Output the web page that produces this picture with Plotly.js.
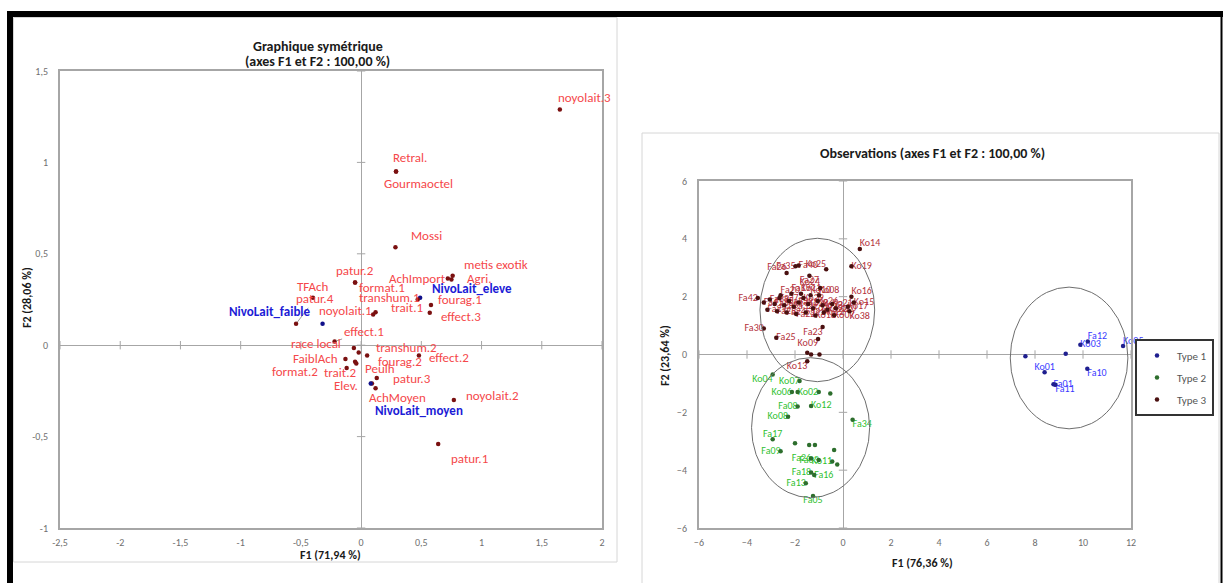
<!DOCTYPE html>
<html><head><meta charset="utf-8">
<script src="https://cdn.plot.ly/plotly-3.0.1.min.js"></script>
<style>html,body{margin:0;padding:0;background:#fff;} #chart{width:1223px;height:583px;}</style>
</head><body><div id="chart"></div>
<script>
// ===== Left chart: Graphique symétrique (axes F1 et F2 : 100,00 %) =====
const symNames = ['noyolait.3','Retral.','Gourmaoctel','Mossi','metis exotik','AchImport','Agri.','NivoLait_eleve','transhum.1','fourag.1','trait.1','noyolait.1','effect.3','patur.2','format.1','TFAch','patur.4','NivoLait_faible','effect.1','race local','transhum.2','FaiblAch','fourag.2','effect.2','format.2','trait.2','Peulh','patur.3','Elev.','AchMoyen','NivoLait_moyen','noyolait.2','patur.1'];
const symX = [1.65,0.29,0.29,0.285,0.76,0.72,0.75,0.49,0.47,0.58,0.12,0.10,0.57,-0.05,-0.05,-0.40,-0.54,-0.32,-0.22,-0.06,-0.02,-0.13,0.05,0.48,-0.05,-0.12,-0.04,0.13,0.09,0.12,0.08,0.77,0.64];
const symY = [1.29,0.95,0.95,0.536,0.38,0.365,0.36,0.26,0.25,0.22,0.18,0.168,0.178,0.343,0.343,0.26,0.117,0.117,0.02,-0.015,-0.04,-0.075,-0.057,-0.057,-0.09,-0.125,-0.10,-0.18,-0.21,-0.235,-0.21,-0.30,-0.54];
const symIsRow = symNames.map(n => n.startsWith('NivoLait'));
// label placement (pixels)
const symDx = [25,14,22,31,43,-30,28,52,-28,29,31,-28,31,0,27,0,19,-53,29,-38,48,-30,33,30,-60,-7,24,35,-26,22,48,39,31];
const symDy = [12,14,-12,12,11,0,1,9,2,5,5,4,-4,12,-5,11,25,12,10,4,5,0,-6,-2,-10,-4,-5,0,-2,-9,-27,5,-15];
const symLeader = symNames.map(n => ['patur.4','effect.1','AchMoyen'].includes(n));

const symXTicks = [-2.5,-2,-1.5,-1,-0.5,0,0.5,1,1.5,2];
const symXTickText = ['-2,5','-2','-1,5','-1','-0,5','0','0,5','1','1,5','2'];
const symYTicks = [-1,-0.5,0,0.5,1,1.5];
const symYTickText = ['-1','-0,5','0','0,5','1','1,5'];

// ===== Right chart: Observations (axes F1 et F2 : 100,00 %) =====
const t1Names = ['','','Ko03','Fa12','Ko05','Fa10','Ko01','Fa01','Fa11'];
const t1X = [7.60,9.28,9.89,10.20,11.67,10.18,8.40,8.77,8.85];
const t1Y = [-0.06,0.03,0.34,0.45,0.29,-0.49,-0.61,-1.03,-1.05];
const t1Pos = ['top right','top right','middle right','top right','top right','bottom right','top center','middle right','bottom right'];

const t2Names = ['Ko04','Ko07','Ko06','Ko02','','','Fa08','Ko12','Ko08','Fa17','','','','Fa34','','Fa26','Fa03','Ko11','','Fa18','Fa16','Fa05','Fa13','Fa09'];
const t2X = [-2.93,-1.81,-2.13,-1.89,-1.01,-0.53,-1.89,-1.33,-2.29,-2.93,-2.00,-1.41,-1.17,0.40,-0.37,-1.33,-1.01,-0.45,-0.24,-1.33,-1.20,-1.25,-1.55,-2.60];
const t2Y = [-0.69,-0.92,-1.30,-1.30,-1.30,-1.35,-1.80,-1.78,-2.15,-2.93,-3.07,-3.13,-3.13,-2.26,-3.30,-3.60,-3.65,-3.70,-3.80,-4.08,-4.17,-4.89,-4.45,-3.35];
const t2Pos = ['bottom left','middle left','middle left','middle right','top right','top right','middle left','middle right','middle left','top center','top right','top right','top right','bottom right','top right','middle left','middle left','middle left','top right','middle left','middle right','bottom center','middle left','middle left'];

const t3Names = ['Ko14','Ko19','Fa26','Ko25','Fa35','Fa40','Fa27','Ko24','Ko16','Ko15','Ko17','Ko38','Fa42','Fa41','Fa39','Fa38','Fa37','Fa34','Fa33','Fa32','Fa31','Ko29','Ko28','Ko27','Ko26','Ko23','Ko22','Ko21','Ko20','Fa29','Fa28','Fa24','Fa22','Fa21','Ko18','Ko12','Fa20','Fa19','Ko11','Ko10','Ko08','Ko07','Fa23','Fa30','Fa25','Ko09','','','','Ko13'];
const t3X = [0.70,0.35,-2.35,-0.70,-1.98,-1.85,-1.40,-0.95,0.35,0.45,0.20,0.27,-3.55,-3.30,-3.05,-2.85,-2.65,-2.45,-2.25,-2.05,-1.85,-1.65,-1.45,-1.25,-1.05,-0.85,-0.65,-0.45,-0.30,-3.15,-2.75,-2.35,-1.95,-1.55,-1.15,-0.80,-2.60,-2.15,-1.75,-1.35,-1.00,-0.37,-0.85,-3.30,-2.78,-1.04,-1.49,-1.33,-0.98,-1.49];
const t3Y = [3.65,3.05,2.82,2.95,3.05,3.08,2.72,2.30,2.00,1.80,1.65,1.50,1.95,1.80,1.90,1.75,1.95,1.70,1.85,1.65,1.80,1.95,1.75,1.60,1.85,1.70,1.55,1.75,1.60,1.55,1.50,1.45,1.40,1.45,1.35,1.45,2.05,2.10,2.10,2.05,2.05,1.36,0.95,0.90,0.58,0.54,0.06,0.00,0.00,-0.23];
const t3Pos = ['top right','middle right','top left','top left','middle left','middle right','bottom center','top left','top right','middle right','middle right','bottom right','middle left','middle right','middle right','middle right','middle right','middle right','middle right','middle right','middle right','middle right','middle right','middle right','middle right','middle right','middle right','middle right','middle right','middle right','middle right','middle right','middle right','middle right','middle right','middle right','top right','top right','top right','top right','top right','middle right','bottom left','middle left','middle right','bottom left','top right','top right','top right','bottom left'];

// confidence ellipses (centre, semi-axes) for Type 1, Type 2, Type 3
const ellCx = [9.42,-1.35,-1.07];
const ellCy = [-0.12,-2.53,1.54];
const ellRx = [2.45,2.46,2.39];
const ellRy = [2.45,2.42,2.48];

const obsXTicks = [-6,-4,-2,0,2,4,6,8,10,12];
const obsYTicks = [-6,-4,-2,0,2,4,6];

// ===== helpers / layout =====
const W = 1223, H = 583;
const PX = p => p / W, PY = p => 1 - p / H;
const FONT = 'Carlito, Lato, "Open Sans", sans-serif';
const red = '#f5474a', blue = '#1c1cd6';

const traces = [];
// zero-axis tick marks (left)
traces.push({x: symXTicks, y: symXTicks.map(() => 0), xaxis: 'x', yaxis: 'y', mode: 'markers', hoverinfo: 'skip', showlegend: false,
  marker: {symbol: 'line-ns', size: 6, line: {color: '#a6a6a6', width: 1}}});
traces.push({x: symYTicks.map(() => 0), y: symYTicks, xaxis: 'x', yaxis: 'y', mode: 'markers', hoverinfo: 'skip', showlegend: false,
  marker: {symbol: 'line-ew', size: 6, line: {color: '#a6a6a6', width: 1}}});
// zero-axis tick marks (right)
traces.push({x: obsXTicks, y: obsXTicks.map(() => 0), xaxis: 'x2', yaxis: 'y2', mode: 'markers', hoverinfo: 'skip', showlegend: false,
  marker: {symbol: 'line-ns', size: 6, line: {color: '#a6a6a6', width: 1}}});
traces.push({x: obsYTicks.map(() => 0), y: obsYTicks, xaxis: 'x2', yaxis: 'y2', mode: 'markers', hoverinfo: 'skip', showlegend: false,
  marker: {symbol: 'line-ew', size: 6, line: {color: '#a6a6a6', width: 1}}});

// left points
traces.push({x: symX, y: symY, xaxis: 'x', yaxis: 'y', mode: 'markers', showlegend: false, hoverinfo: 'text', text: symNames,
  marker: {size: 4.5, color: symIsRow.map(r => r ? '#10108a' : '#7a1010')}});

// right points + labels
const groups = [
  {name: 'Type 1', x: t1X, y: t1Y, t: t1Names, p: t1Pos, mc: '#1f1f8f', tc: '#3a3aff'},
  {name: 'Type 2', x: t2X, y: t2Y, t: t2Names, p: t2Pos, mc: '#2d6e2d', tc: '#2fbf2f'},
  {name: 'Type 3', x: t3X, y: t3Y, t: t3Names, p: t3Pos, mc: '#4a1010', tc: '#b3303a'}
];
groups.forEach((g, i) => {
  traces.push({x: g.x, y: g.y, xaxis: 'x2', yaxis: 'y2', mode: 'text', text: g.t, textposition: g.p,
    textfont: {size: 10, color: g.tc, family: FONT}, showlegend: false, hoverinfo: 'skip', cliponaxis: false});
  traces.push({x: g.x, y: g.y, xaxis: 'x2', yaxis: 'y2', mode: 'markers', name: g.name, legendgroup: 'g' + i,
    marker: {size: 4.5, color: g.mc}, cliponaxis: false});
});

const annotations = [];
symNames.forEach((n, i) => {
  const row = symIsRow[i];
  const f = {family: FONT, size: 13, color: row ? blue : red};
  const txt = row ? '<b>' + n + '</b>' : n;
  if (symLeader[i]) {
    annotations.push({x: symX[i], y: symY[i], xref: 'x', yref: 'y', text: txt, showarrow: true, arrowhead: 0,
      arrowwidth: 0.8, arrowcolor: '#7f7f7f', ax: symDx[i], ay: -symDy[i], standoff: 2, font: f});
  } else {
    annotations.push({x: symX[i], y: symY[i], xref: 'x', yref: 'y', text: txt, showarrow: false,
      xshift: symDx[i], yshift: symDy[i], font: f});
  }
});
const pa = (text, x, y, size, angle) => ({text, x: PX(x), y: PY(y), xref: 'paper', yref: 'paper', showarrow: false,
  xanchor: 'center', yanchor: 'middle', textangle: angle || 0, font: {family: FONT, size: size, color: '#1a1a1a'}});
annotations.push(pa('<b>Graphique symétrique</b>', 318, 46, 14));
annotations.push(pa('<b>(axes F1 et F2 : 100,00 %)</b>', 318, 62, 14));
annotations.push(pa('<b>F1 (71,94 %)</b>', 330, 555, 12));
annotations.push(pa('<b>F2 (28,06 %)</b>', 27, 298, 12, -90));
annotations.push(pa('<b>Observations (axes F1 et F2 : 100,00 %)</b>', 932, 153, 14));
annotations.push(pa('<b>F1 (76,36 %)</b>', 922, 563, 12));
annotations.push(pa('<b>F2 (23,64 %)</b>', 665, 356, 12, -90));

const shapes = [
  {type: 'rect', xref: 'paper', yref: 'paper', x0: PX(13.5), x1: PX(617), y0: PY(562), y1: PY(17.5), line: {color: '#d6d6d6', width: 1}},
  {type: 'rect', xref: 'paper', yref: 'paper', x0: PX(642), x1: PX(1219), y0: PY(595), y1: PY(133), line: {color: '#d6d6d6', width: 1}},
  {type: 'rect', xref: 'paper', yref: 'paper', x0: PX(7), x1: PX(1223), y0: PY(17), y1: PY(11), fillcolor: '#000', line: {width: 0}},
  {type: 'rect', xref: 'paper', yref: 'paper', x0: PX(7), x1: PX(13), y0: PY(590), y1: PY(11), fillcolor: '#000', line: {width: 0}},
  {type: 'rect', xref: 'paper', yref: 'paper', x0: PX(1220.5), x1: PX(1222.5), y0: PY(590), y1: PY(11), fillcolor: '#000', line: {width: 0}}
];
ellCx.forEach((cx, i) => {
  shapes.push({type: 'circle', xref: 'x2', yref: 'y2', x0: cx - ellRx[i], x1: cx + ellRx[i], y0: ellCy[i] - ellRy[i], y1: ellCy[i] + ellRy[i],
    line: {color: '#6e6e6e', width: 1}, layer: 'above'});
});

const axBase = {showline: true, mirror: true, linecolor: '#a6a6a6', linewidth: 2, zeroline: true, zerolinecolor: '#a6a6a6',
  zerolinewidth: 1, showgrid: false, ticks: 'outside', tickcolor: 'rgba(0,0,0,0)', fixedrange: true,
  tickfont: {family: FONT, size: 10, color: '#6f6f6f'}};

const layout = {
  width: W, height: H, margin: {l: 0, r: 0, t: 0, b: 0}, paper_bgcolor: '#fff', plot_bgcolor: '#fff',
  font: {family: FONT},
  xaxis: Object.assign({}, axBase, {domain: [PX(60), PX(602)], range: [-2.5, 2], anchor: 'y', tickvals: symXTicks, ticktext: symXTickText, ticklen: 4}),
  yaxis: Object.assign({}, axBase, {domain: [PY(528), PY(71)], range: [-1, 1.5], anchor: 'x', tickvals: symYTicks, ticktext: symYTickText, ticklen: 8}),
  xaxis2: Object.assign({}, axBase, {domain: [PX(699), PX(1131)], range: [-6, 12], anchor: 'y2', tickvals: obsXTicks, ticklen: 4}),
  yaxis2: Object.assign({}, axBase, {domain: [PY(528), PY(181)], range: [-6, 6], anchor: 'x2', tickvals: obsYTicks, ticklen: 8}),
  showlegend: true,
  legend: {x: PX(1214), xanchor: 'right', y: PY(339), yanchor: 'top', bordercolor: '#333', borderwidth: 2, bgcolor: '#fff',
    font: {family: FONT, size: 11, color: '#555'}, tracegroupgap: 3, itemclick: false, itemwidth: 30},
  annotations, shapes
};
Plotly.newPlot('chart', traces, layout, {displayModeBar: false, staticPlot: true});
</script></body></html>
